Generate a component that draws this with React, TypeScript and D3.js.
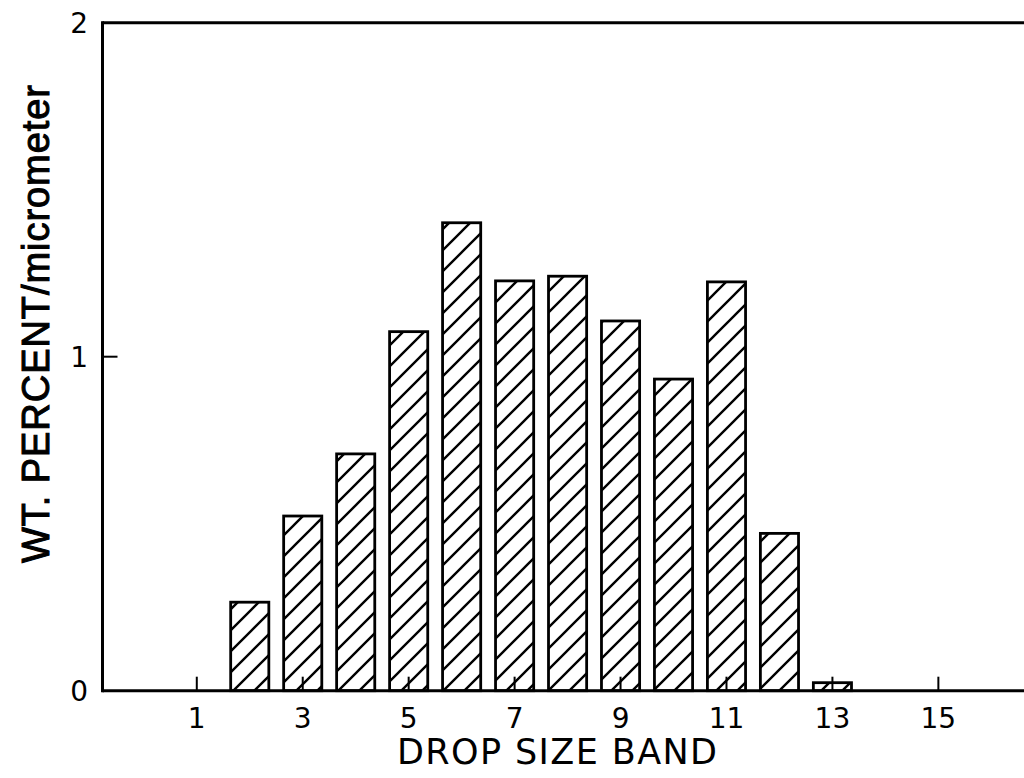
import React from "react";
import * as d3 from "d3";

const bands = [2, 3, 4, 5, 6, 7, 8, 9, 10, 11, 12, 13];
const values = [0.265, 0.523, 0.709, 1.075, 1.401, 1.227, 1.241, 1.107, 0.933, 1.224, 0.471, 0.024];
const xTicks = [1, 3, 5, 7, 9, 11, 13, 15];
const yTicks = [0, 1, 2];
const xTitle = "DROP SIZE BAND";
const yTitle = "WT. PERCENT/micrometer";

export default function App() {
  const W = 1024, H = 778;
  const x = d3.scaleLinear().domain([-0.78, 17]).range([102.5, 102.5 + 17.78 * 52.97]);
  const y = d3.scaleLinear().domain([0, 2]).range([690.7, 22.7]);
  const bw = 0.72 * (x(1) - x(0));
  const x0 = x(-0.78);
  const hatch = 21;
  return (
    <svg width={W} height={H} style={{ position: "absolute", left: 0, top: 0, background: "#fff" }}>
      <defs>
        <pattern id="hatch" patternUnits="userSpaceOnUse" width={hatch} height={hatch}>
          <path
            d={`M-3,3 L3,-3 M0,${hatch} L${hatch},0 M${hatch - 3},${hatch + 3} L${hatch + 3},${hatch - 3}`}
            stroke="#000"
            strokeWidth={2.4}
          />
        </pattern>
      </defs>
      <rect x={0} y={0} width={W} height={H} fill="#fff" />
      {bands.map((b, i) => (
        <rect
          key={b}
          x={x(b) - bw / 2}
          y={y(values[i])}
          width={bw}
          height={y(0) - y(values[i])}
          fill="url(#hatch)"
          stroke="#000"
          strokeWidth={2.8}
        />
      ))}
      {/* axes */}
      <line x1={x0} x2={W + 10} y1={y(0)} y2={y(0)} stroke="#000" strokeWidth={3} />
      <line x1={x0} x2={W + 10} y1={y(2)} y2={y(2)} stroke="#000" strokeWidth={3} />
      <line x1={x0} x2={x0} y1={y(2) - 1.5} y2={y(0) + 1.5} stroke="#000" strokeWidth={3} />
      {xTicks.map((t) => (
        <g key={t}>
          <line x1={x(t)} x2={x(t)} y1={y(0)} y2={y(0) - 14} stroke="#000" strokeWidth={2} />
          <text
            x={x(t)}
            y={728}
            textAnchor="middle"
            fontFamily="DejaVu Sans"
            fontSize={28}
            fill="#000"
          >
            {t}
          </text>
        </g>
      ))}
      {yTicks.map((t) => (
        <g key={t}>
          {t === 1 && <line x1={x0} x2={x0 + 15} y1={y(t)} y2={y(t)} stroke="#000" strokeWidth={2} />}
          <text
            x={88}
            y={y(t) + 10}
            textAnchor="end"
            fontFamily="DejaVu Sans"
            fontSize={28}
            fill="#000"
          >
            {t}
          </text>
        </g>
      ))}
      <text
        x={557}
        y={764}
        textAnchor="middle"
        fontFamily="DejaVu Sans"
        fontSize={35}
        textLength={320}
        lengthAdjust="spacing"
        fill="#000"
      >
        {xTitle}
      </text>
      <text
        transform={`translate(49,324) rotate(-90)`}
        textAnchor="middle"
        fontFamily="Liberation Sans"
        fontSize={38}
        textLength={478}
        lengthAdjust="spacing"
        fill="#000"
        stroke="#000"
        strokeWidth={1}
      >
        {yTitle}
      </text>
    </svg>
  );
}
